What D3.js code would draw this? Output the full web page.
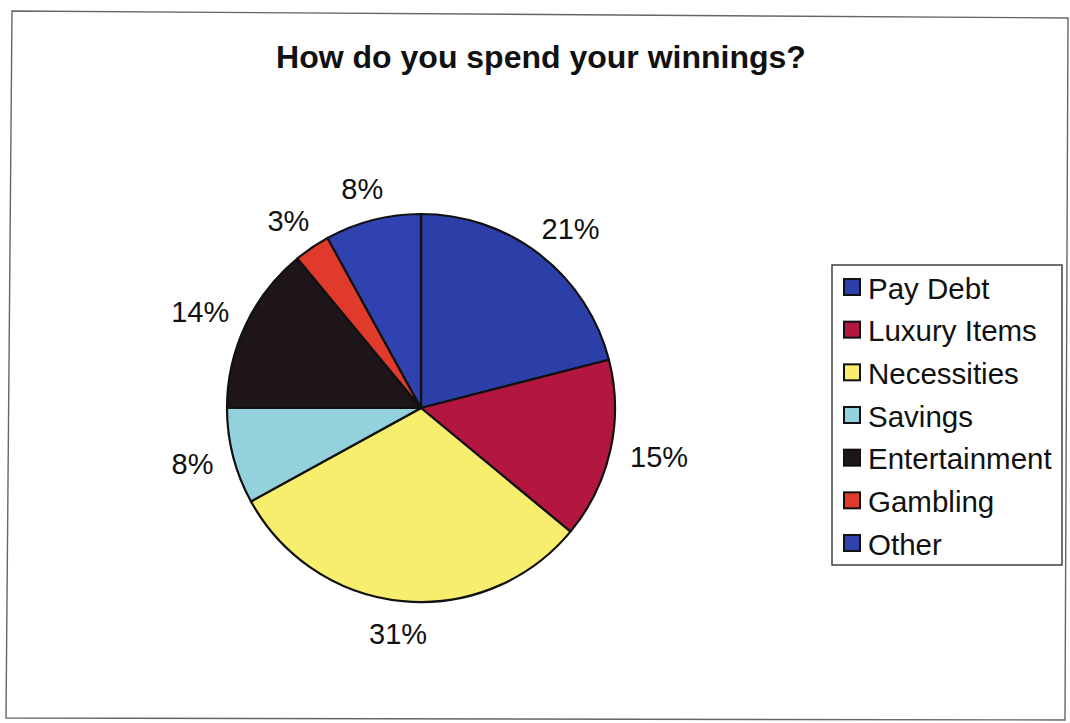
<!DOCTYPE html>
<html>
<head>
<meta charset="utf-8">
<script src="https://cdn.jsdelivr.net/npm/d3@7"></script>
<style>
  html, body { margin: 0; padding: 0; background: #fff; }
  svg { display: block; }
  text { font-family: "Liberation Sans", Arial, Helvetica, sans-serif; fill: #111; }
</style>
</head>
<body>
<svg id="chart" width="1070" height="723"></svg>
<script>
// Survey answers, in percent
const categories = ["Pay Debt", "Luxury Items", "Necessities", "Savings", "Entertainment", "Gambling", "Other"];
const values = [21, 15, 31, 8, 14, 3, 8];
const colors = ["#2c3ea8", "#b3173f", "#f6ee6c", "#93d2dc", "#1d1519", "#df3a2b", "#3041b0"];
const title = "How do you spend your winnings?";

const svg = d3.select("#chart");

// outer frame of the chart area
svg.append("path")
  .attr("d", "M12,11 L1068,18 L1065,720 L6,718 Z")
  .attr("fill", "none")
  .attr("stroke", "#666")
  .attr("stroke-width", 1.4);

svg.append("text")
  .attr("x", 541)
  .attr("y", 68)
  .attr("text-anchor", "middle")
  .attr("font-size", 32)
  .attr("font-weight", "bold")
  .text(title);

const cx = 421, cy = 408, radius = 194;
const data = categories.map((c, i) => ({ name: c, value: values[i], color: colors[i] }));

const pie = d3.pie().value(d => d.value).sort(null);
const arc = d3.arc().innerRadius(0).outerRadius(radius);
const arcs = pie(data);

const g = svg.append("g").attr("transform", `translate(${cx},${cy})`);

g.selectAll("path.slice")
  .data(arcs)
  .join("path")
  .attr("class", "slice")
  .attr("d", arc)
  .attr("fill", d => d.data.color)
  .attr("stroke", "#111")
  .attr("stroke-width", 2.2)
  .attr("stroke-linejoin", "round");

// percentage labels: anchor just outside the rim, box pushed outward from it
const fmt = d3.format(".0%");
const anchorR = radius + 21;
g.selectAll("text.pct")
  .data(arcs)
  .join("text")
  .attr("class", "pct")
  .attr("font-size", 29)
  .attr("text-anchor", "middle")
  .attr("dominant-baseline", "central")
  .text(d => fmt(d.data.value / 100))
  .each(function(d) {
    const bb = this.getBBox();
    const a = (d.startAngle + d.endAngle) / 2;
    const sx = Math.sin(a), sy = -Math.cos(a);
    const x = anchorR * sx + sx * bb.width / 2;
    const y = anchorR * sy + sy * bb.height * 0.36;
    d3.select(this).attr("x", x).attr("y", y);
  });

// legend
const lg = svg.append("g").attr("transform", "translate(832,265)");
lg.append("rect")
  .attr("width", 230)
  .attr("height", 300)
  .attr("fill", "#fff")
  .attr("stroke", "#333")
  .attr("stroke-width", 1.4);

const rowY = d3.scalePoint().domain(categories).range([22, 278]);
const rows = lg.selectAll("g.row")
  .data(data)
  .join("g")
  .attr("class", "row")
  .attr("transform", d => `translate(0,${rowY(d.name)})`);

rows.append("rect")
  .attr("x", 12)
  .attr("y", -8)
  .attr("width", 16)
  .attr("height", 16)
  .attr("fill", d => d.color)
  .attr("stroke", "#111")
  .attr("stroke-width", 2);

rows.append("text")
  .attr("x", 36)
  .attr("y", 1)
  .attr("dominant-baseline", "central")
  .attr("font-size", 29.5)
  .text(d => d.name);
</script>
</body>
</html>
